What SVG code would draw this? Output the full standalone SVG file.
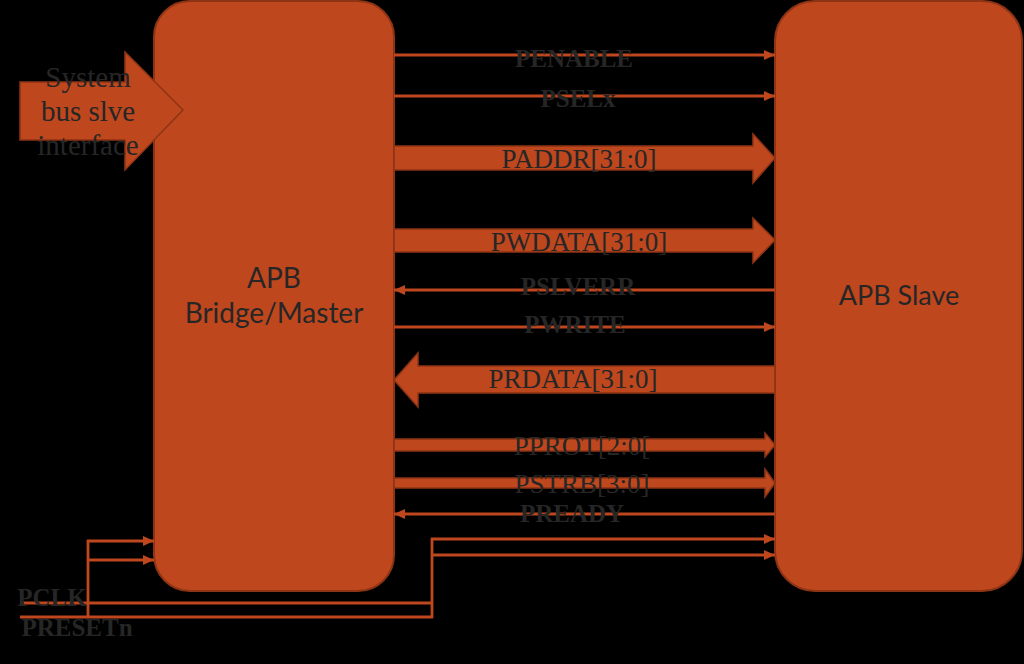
<svg xmlns="http://www.w3.org/2000/svg" width="1024" height="664" viewBox="0 0 1024 664">
<defs>
<style>
.box{fill:#BE471E;stroke:#8E3414;stroke-width:2}
.blk{fill:#BE471E;stroke:#8E3414;stroke-width:1.5}
.ln{fill:none;stroke:#BE471E;stroke-width:2.8}
.lbl{font-family:"Liberation Serif",serif;fill:#262626;text-anchor:middle}
.b{font-weight:bold;font-size:25px}
.r{font-size:27px}
.nt{font-family:Lato,"Open Sans",sans-serif;fill:#262626;text-anchor:middle}
</style>
<marker id="ah" viewBox="0 0 11 10" refX="11" refY="5" markerWidth="11" markerHeight="10" markerUnits="userSpaceOnUse" orient="auto">
<path d="M0,0 L11,5 L0,10 Z" fill="#BE471E"/>
</marker>
</defs>
<rect width="1024" height="664" fill="#000"/>
<g id="bridge">
<rect class="box" x="154" y="1" width="240" height="590" rx="36"/>
<text class="nt" font-size="28" x="274" y="288">APB</text>
<text class="nt" font-size="28" x="274" y="323">Bridge/Master</text>
</g>
<g id="slave">
<rect class="box" x="775" y="1" width="247" height="590" rx="40"/>
<text class="nt" font-size="27" x="899" y="305">APB Slave</text>
</g>
<g id="sysbus">
<path class="blk" d="M20,82 L125,82 L125,52 L183,110 L125,170 L125,140 L20,140 Z"/>
<text class="lbl" font-size="29" x="88" y="87">System</text>
<text class="lbl" font-size="29" x="88" y="121">bus slve</text>
<text class="lbl" font-size="29" x="88" y="155">interface</text>
</g>
<g id="connectors">
<line class="ln" x1="394" y1="55" x2="775" y2="55" marker-end="url(#ah)"/>
<line class="ln" x1="394" y1="96" x2="775" y2="96" marker-end="url(#ah)"/>
<path class="blk" d="M394,146 L753,146 L753,134 L775,158 L753,183 L753,170 L394,170 Z"/>
<path class="blk" d="M394,229 L753,229 L753,218 L775,240 L753,263 L753,252 L394,252 Z"/>
<line class="ln" x1="775" y1="290" x2="394" y2="290" marker-end="url(#ah)"/>
<line class="ln" x1="394" y1="327" x2="775" y2="327" marker-end="url(#ah)"/>
<path class="blk" d="M775,366 L418,366 L418,353 L394,380 L418,407 L418,393 L775,393 Z"/>
<path class="blk" d="M394,439 L765,439 L765,433 L775,445 L765,457 L765,451 L394,451 Z"/>
<path class="blk" d="M394,478 L765,478 L765,469 L775,483 L765,497 L765,488 L394,488 Z"/>
<line class="ln" x1="775" y1="514" x2="394" y2="514" marker-end="url(#ah)"/>
<line class="ln" x1="20" y1="603" x2="432" y2="603"/>
<line class="ln" x1="20" y1="617" x2="433" y2="617"/>
<line class="ln" x1="88" y1="540" x2="88" y2="618"/>
<line class="ln" x1="432" y1="538" x2="432" y2="618"/>
<line class="ln" x1="87" y1="541" x2="154" y2="541" marker-end="url(#ah)"/>
<line class="ln" x1="88" y1="560" x2="154" y2="560" marker-end="url(#ah)"/>
<line class="ln" x1="431" y1="539" x2="775" y2="539" marker-end="url(#ah)"/>
<line class="ln" x1="432" y1="555" x2="775" y2="555" marker-end="url(#ah)"/>
</g>
<g id="labels">
<text class="lbl b" x="574" y="67">PENABLE</text>
<text class="lbl b" x="578" y="107">PSELx</text>
<text class="lbl r" x="579" y="168">PADDR[31:0]</text>
<text class="lbl r" x="579" y="251">PWDATA[31:0]</text>
<text class="lbl b" x="578" y="295">PSLVERR</text>
<text class="lbl b" x="575" y="333">PWRITE</text>
<text class="lbl r" x="573" y="388">PRDATA[31:0]</text>
<text class="lbl r" x="582" y="455">PPROT[2:0[</text>
<text class="lbl r" x="582" y="493">PSTRB[3:0]</text>
<text class="lbl b" x="572" y="522">PREADY</text>
<text class="lbl b" x="52" y="606">PCLK</text>
<text class="lbl b" x="77" y="636">PRESETn</text>
</g>
</svg>
